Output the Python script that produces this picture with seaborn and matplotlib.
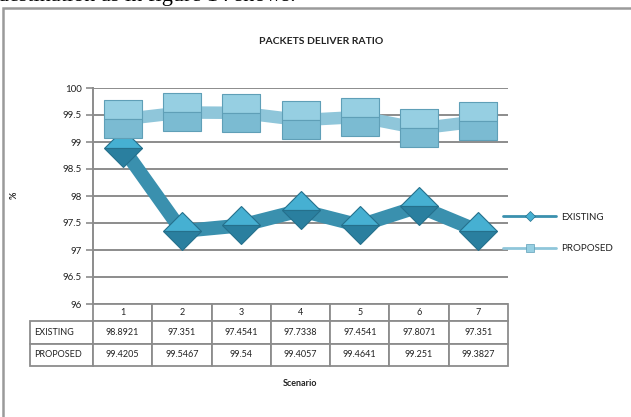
import matplotlib
matplotlib.use("Agg")
import matplotlib.pyplot as plt
import seaborn as sns
from matplotlib.lines import Line2D
from matplotlib.patches import Rectangle

# Data
scenarios = ["1", "2", "3", "4", "5", "6", "7"]
existing = [98.8921, 97.351, 97.4541, 97.7338, 97.4541, 97.8071, 97.351]
proposed = [99.4205, 99.5467, 99.54, 99.4057, 99.4641, 99.251, 99.3827]
series_names = ["EXISTING", "PROPOSED"]
y_ticks = [96, 96.5, 97, 97.5, 98, 98.5, 99, 99.5, 100]

sns.set_theme(style="white")
plt.rcParams["font.family"] = ["Lato", "DejaVu Sans"]

W, H = 631, 417
fig = plt.figure(figsize=(W / 100, H / 100), dpi=100)
ax = fig.add_axes([93 / W, 1 - 304 / H, 415 / W, 216 / H])

grid_col = "#8c8c8c"
ex_line, ex_top, ex_bot, ex_edge = "#3a90ae", "#46b0d2", "#2a7f9f", "#25708c"
pr_line, pr_top, pr_bot, pr_edge = "#8fc6da", "#96cfe2", "#7bbbd2", "#5f9fb7"

x = list(range(len(scenarios)))

sns.lineplot(x=x, y=existing, ax=ax, color=ex_line, linewidth=10,
             marker="D", markersize=19.5, fillstyle="top",
             markerfacecolor=ex_top, markerfacecoloralt=ex_bot,
             markeredgecolor=ex_edge, markeredgewidth=0.8,
             solid_joinstyle="round", zorder=4)
sns.lineplot(x=x, y=proposed, ax=ax, color=pr_line, linewidth=9,
             marker="s", markersize=27, fillstyle="top",
             markerfacecolor=pr_top, markerfacecoloralt=pr_bot,
             markeredgecolor=pr_edge, markeredgewidth=0.8,
             solid_joinstyle="round", zorder=5)

ax.set_xlim(-0.5, len(scenarios) - 0.5)
ax.set_ylim(y_ticks[0], y_ticks[-1])
ax.set_yticks(y_ticks)
ax.set_yticklabels([f"{t:g}" for t in y_ticks])
ax.set_xticks([])
ax.set_xlabel("")
ax.set_ylabel("")
ax.yaxis.grid(True, color=grid_col, linewidth=1.4)
ax.set_axisbelow(True)
for side in ["top", "right", "bottom"]:
    ax.spines[side].set_visible(False)
ax.spines["left"].set_color(grid_col)
ax.spines["left"].set_linewidth(1.4)
ax.tick_params(axis="y", left=True, length=5, width=1.2, color=grid_col,
               labelsize=7, pad=3, labelcolor="#222222")

# Data table under the plot
cell_text = [[""] + scenarios,
             [series_names[0]] + [f"{v:g}" for v in existing],
             [series_names[1]] + [f"{v:g}" for v in proposed]]
label_w = 63 / 415
tbl = ax.table(cellText=cell_text,
               colWidths=[label_w] + [1 / 7] * 7,
               bbox=[-label_w, -62 / 216, 1 + label_w, 62 / 216],
               cellLoc="center")
tbl.auto_set_font_size(False)
for (r, c), cell in tbl.get_celld().items():
    cell.set_edgecolor(grid_col)
    cell.set_linewidth(1.3)
    cell.get_text().set_fontsize(6.5)
    cell.get_text().set_color("#222222")
    if r == 0 and c == 0:
        cell.visible_edges = ""
    if c == 0 and r > 0:
        cell.get_text().set_ha("left")
        cell.PAD = 0.06
# header row slightly shorter
h = 62 / 216
for (r, c), cell in tbl.get_celld().items():
    cell.set_height(h * (0.28 if r == 0 else 0.36))

fig.text(300 / W, 1 - 383 / H, "Scenario", ha="center", va="center",
         fontsize=6.5, fontweight="bold", color="#222222")
fig.text(321 / W, 1 - 41 / H, "PACKETS DELIVER RATIO", ha="center",
         va="center", fontsize=7.5, fontweight="bold", color="#222222")
fig.text(14 / W, 1 - 195 / H, "%", ha="center", va="center", rotation=90,
         fontsize=6.5, fontweight="bold", color="#222222")

# Legend
handles = [
    Line2D([0], [0], color=ex_line, lw=2, marker="D", markersize=5,
           markerfacecolor=ex_top, markeredgecolor=ex_edge, markeredgewidth=0.5),
    Line2D([0], [0], color=pr_line, lw=2, marker="s", markersize=6,
           markerfacecolor=pr_top, markeredgecolor=pr_edge, markeredgewidth=0.5),
]
fig.legend(handles, series_names, loc="center left",
           bbox_to_anchor=(503 / W, 1 - 233 / H), frameon=False,
           fontsize=7, handlelength=5.5, handletextpad=0.5,
           labelspacing=2.3, borderpad=0, borderaxespad=0,
           labelcolor="#222222")

# Outer frame of the chart object
fig.patches.append(Rectangle((3 / W, -0.2), 1.3, 1 - 8 / H + 0.2,
                             transform=fig.transFigure, fill=False,
                             edgecolor="#9a9a9a", linewidth=1.8))

# Running text of the page just above the chart
fig.text(-2 / W, 1 - 1.5 / H, "destination as in figure 14 shows.",
         ha="left", va="baseline", fontsize=16,
         family=["Liberation Serif", "DejaVu Serif"], color="#000000")

fig.savefig("out.png", dpi=100)
